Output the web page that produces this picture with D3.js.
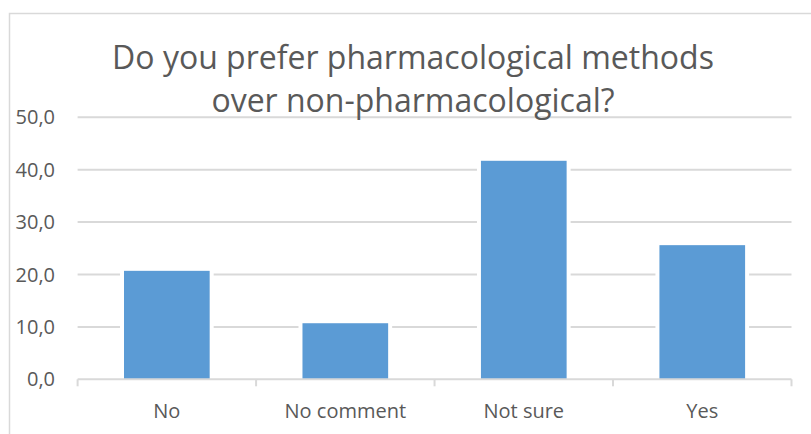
<!DOCTYPE html>
<html>
<head>
<meta charset="utf-8">
<script src="https://cdn.jsdelivr.net/npm/d3@7"></script>
<style>
  body { margin: 0; background: #fff; }
  text { font-family: "Open Sans", sans-serif; fill: #595959; }
</style>
</head>
<body>
<div id="chart"></div>
<script>
var categories = ["No", "No comment", "Not sure", "Yes"];
var values = [20.7, 10.7, 41.7, 25.6];
var yTicks = [0, 10, 20, 30, 40, 50];
var titleLines = ["Do you prefer pharmacological methods", "over non-pharmacological?"];

document.addEventListener("DOMContentLoaded", function(e) {
    chart1();
});

function chart1(){
    var width = 811;
    var height = 434;
    var left = 77.6, right = 791.5, top = 117.3, bottom = 379.3;

    var svg = d3.select("#chart")
        .append("svg")
        .attr("width", width)
        .attr("height", height);

    // chart border
    svg.append("rect")
        .attr("x", 9.5).attr("y", 13.5)
        .attr("width", 820).attr("height", 440)
        .attr("fill", "none")
        .attr("stroke", "#d9d9d9")
        .attr("stroke-width", 1.5);

    var x = d3.scaleBand()
        .domain(categories)
        .range([left, right])
        .paddingInner(0.52)
        .paddingOuter(0.26);

    var y = d3.scaleLinear()
        .domain([0, 50])
        .range([bottom, top]);

    // gridlines
    svg.append("g")
        .selectAll("line")
        .data(yTicks.slice(1))
        .enter().append("line")
        .attr("x1", left).attr("x2", right)
        .attr("y1", function(d){ return y(d); })
        .attr("y2", function(d){ return y(d); })
        .attr("stroke", "#d9d9d9")
        .attr("stroke-width", 2);

    // y labels
    svg.append("g")
        .selectAll("text")
        .data(yTicks)
        .enter().append("text")
        .attr("x", 55)
        .attr("y", function(d){ return y(d) + 7; })
        .attr("text-anchor", "end")
        .style("font-size", "20px")
        .text(function(d){ return d.toFixed(1).replace(".", ","); });

    // white gap around bars, then bars
    svg.append("g")
        .selectAll("rect")
        .data(values)
        .enter().append("rect")
        .attr("x", function(d, i){ return x(categories[i]) - 4; })
        .attr("y", function(d){ return y(d) - 1; })
        .attr("width", x.bandwidth() + 8)
        .attr("height", function(d){ return bottom - y(d); })
        .attr("fill", "#fff");

    svg.append("g")
        .selectAll("rect")
        .data(values)
        .enter().append("rect")
        .attr("x", function(d, i){ return x(categories[i]); })
        .attr("y", function(d){ return y(d); })
        .attr("width", x.bandwidth())
        .attr("height", function(d){ return bottom - y(d); })
        .attr("fill", "#5b9bd5");

    // x axis
    var xAxis = svg.append("g")
        .attr("transform", "translate(0," + bottom + ")");
    xAxis.append("line")
        .attr("x1", left).attr("x2", right)
        .attr("stroke", "#d9d9d9").attr("stroke-width", 2);
    var step = x.step();
    var bounds = d3.range(categories.length + 1).map(function(i){ return left + i * step; });
    xAxis.selectAll(".tick")
        .data(bounds)
        .enter().append("line")
        .attr("x1", function(d){ return d; })
        .attr("x2", function(d){ return d; })
        .attr("y1", 0).attr("y2", 7)
        .attr("stroke", "#d9d9d9").attr("stroke-width", 2);
    xAxis.selectAll("text")
        .data(categories)
        .enter().append("text")
        .attr("x", function(d){ return x(d) + x.bandwidth() / 2; })
        .attr("y", 38.5)
        .attr("text-anchor", "middle")
        .style("font-size", "20px")
        .text(function(d){ return d; });

    // title
    svg.append("g")
        .selectAll("text")
        .data(titleLines)
        .enter().append("text")
        .attr("x", 413)
        .attr("y", function(d, i){ return 69.3 + i * 42.4; })
        .attr("text-anchor", "middle")
        .style("font-size", "32px")
        .text(function(d){ return d; });
}
</script>
</body>
</html>
